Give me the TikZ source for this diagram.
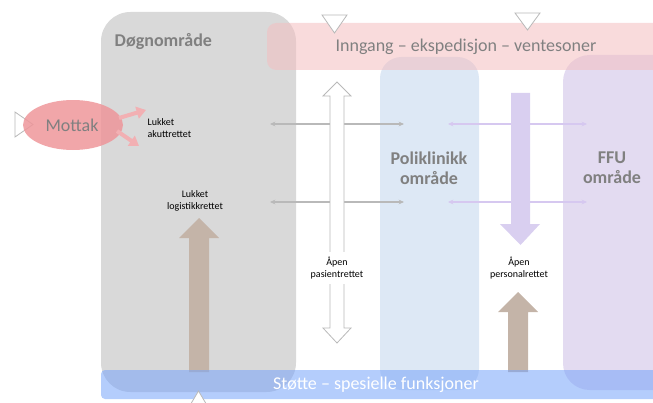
\documentclass[tikz,border=0pt]{standalone}
\usepackage{fontspec}
\setmainfont{Carlito}
\usetikzlibrary{arrows.meta}
\definecolor{dogngray}{RGB}{217,217,217}
\definecolor{labelgray}{RGB}{128,128,128}
\definecolor{inngangpink}{RGB}{244,190,192}
\definecolor{polyblue}{RGB}{221,232,245}
\definecolor{ffulilac}{RGB}{227,219,241}
\definecolor{stottblue}{RGB}{119,164,250}
\definecolor{mottakred}{RGB}{238,150,154}
\definecolor{brownarrow}{RGB}{196,180,168}
\definecolor{lilacarrow}{RGB}{217,207,240}
\definecolor{thingray}{RGB}{185,185,185}
\definecolor{thinlilac}{RGB}{214,200,240}

\begin{document}
\begin{tikzpicture}[x=0.75pt,y=-0.75pt,
		arealabel/.style={font=\bfseries\fontsize{13.5}{15}\selectfont, text=labelgray, align=center},
		barlabel/.style={font=\fontsize{13.5}{15}\selectfont},
		smalllabel/.style={font=\fontsize{7.5}{9}\selectfont, align=center, inner sep=1pt},
		entry/.style={fill=white, draw=thingray, line width=0.6pt, line join=miter},
		thinarrow/.style={line width=0.9pt, {Stealth[length=4pt,width=3.5pt]}-{Stealth[length=4pt,width=3.5pt]}}]
	\useasboundingbox (0,0) rectangle (653,403);

	% Areas
	\fill[dogngray, rounded corners=22] (101,392) rectangle (296,12);
	\fill[polyblue, rounded corners=16] (380,390) rectangle (479,57);
	\fill[ffulilac, rounded corners=20] (563,390) rectangle (680,55);
	\node[arealabel, anchor=west] (dogn) at (110,42) {Døgnområde};
	\node[arealabel] (poli) at (429,168) {Poliklinikk\\område};
	\node[arealabel] (ffu) at (612,168) {FFU\\område};

	% Inngang
	\fill[inngangpink, fill opacity=0.55, rounded corners=7] (267,23) rectangle (690,70);
	\node[barlabel, text=labelgray] (inngang) at (466,47) {Inngang – ekspedisjon – ventesoner};
	\draw[entry] (322,15) -- (347,15) -- (334.5,33) -- cycle;
	\draw[entry] (515,13) -- (540,13) -- (527.5,30) -- cycle;

	% Mottak
	\draw[entry] (15,112) -- (15,137) -- (33,124.5) -- cycle;
	\fill[mottakred, fill opacity=0.85] (73,125) ellipse (50 and 25);
	\node[barlabel, text=labelgray] (mottak) at (72,125) {Mottak};
	\draw[mottakred!75, line width=3pt, -{Triangle[length=7pt,width=9pt]}] (119,118) -- (146,110);
	\draw[mottakred!75, line width=3pt, -{Triangle[length=7pt,width=9pt]}] (117,131) -- (139,146);
	\node[smalllabel, anchor=west, align=left] (akutt) at (146,128) {Lukket\\akuttrettet};
	\node[smalllabel] (logistikk) at (195,201) {Lukket\\logistikkrettet};

	% Horizontal links
	\foreach \y in {124,202}{
			\draw[thinarrow, thingray] (270,\y) -- (404,\y);
			\draw[thinarrow, thinlilac] (448,\y) -- (587,\y);
		}

	% Open patient arrow
	\draw[entry] (337,82) -- (351,96) -- (344,96) -- (344,328) -- (351,328) -- (337,343)
		-- (323,328) -- (330,328) -- (330,96) -- (323,96) -- cycle;
	\node[smalllabel, fill=white, inner ysep=4pt] (pasient) at (337,268) {Åpen\\pasientrettet};

	% Staff arrow
	\fill[lilacarrow] (511,93) -- (530,93) -- (530,224) -- (540,224) -- (520.5,245)
		-- (500,224) -- (511,224) -- cycle;
	\node[smalllabel] (personal) at (519,268) {Åpen\\personalrettet};

	% Logistics arrows
	\foreach \x/\y in {199/218, 518/292}{
			\fill[brownarrow] (\x-10,372) -- (\x-10,\y+20) -- (\x-20,\y+20) -- (\x,\y)
				-- (\x+20,\y+20) -- (\x+10,\y+20) -- (\x+10,372) -- cycle;
		}

	% Stotte
	\fill[stottblue, fill opacity=0.55, rounded corners=3] (101,370) rectangle (690,399);
	\node[barlabel, text=white] (stotte) at (376,385) {Støtte – spesielle funksjoner};
	\draw[entry] (186,412) -- (211,412) -- (198.5,391) -- cycle;
\end{tikzpicture}
\end{document}
